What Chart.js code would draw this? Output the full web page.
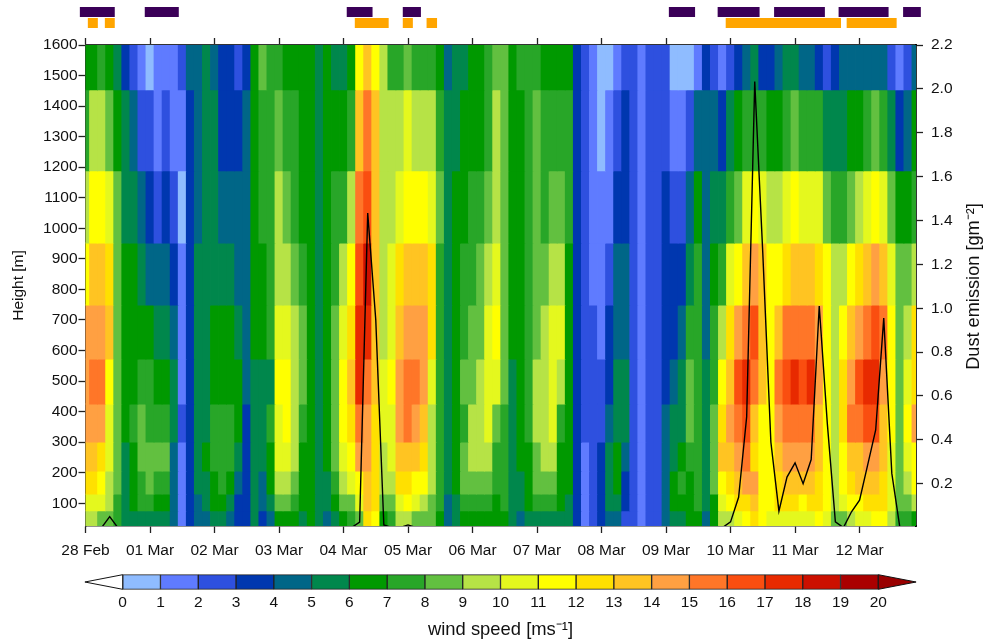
<!DOCTYPE html>
<html>
<head>
<meta charset="utf-8">
<script src="https://cdn.jsdelivr.net/npm/chart.js@4/dist/chart.umd.min.js"></script>
<style>
html,body{margin:0;padding:0;background:#fff;width:985px;height:641px;overflow:hidden}
canvas{position:absolute;left:0;display:block}
</style>
</head>
<body>
<canvas id="strips" width="985" height="30" style="top:0"></canvas>
<canvas id="main" width="985" height="545" style="top:20px"></canvas>
<canvas id="bar" width="985" height="76" style="top:565px"></canvas>
<script>
const dayLabels = ['28 Feb','01 Mar','02 Mar','03 Mar','04 Mar','05 Mar','06 Mar','07 Mar','08 Mar','09 Mar','10 Mar','11 Mar','12 Mar'];
const heightTicks = [100,200,300,400,500,600,700,800,900,1000,1100,1200,1300,1400,1500,1600];
const dustTicks = [0.2,0.4,0.6,0.8,1.0,1.2,1.4,1.6,1.8,2.0,2.2];
const levelEdges = [1600,1453,1188,952,749,572,425,300,205,130,75,25.7];
const speedTicks = [0,1,2,3,4,5,6,7,8,9,10,11,12,13,14,15,16,17,18,19,20];
const palette = ['#8FBCFF','#5F7BFF','#2E50DF','#0037AF','#006687','#00874C','#009900','#28A628','#62C040','#B6E346','#E4F81E','#FFFF00','#FFE000','#FFC422','#FFA042','#FF7628','#FA4E10','#E82A00','#CC1000','#AA0000'];
const overColor = '#990000';

// wind speed class (m/s, lower bound) per 3-hour step, top level first
const wind1 = [6,6,7,6,5,3,2,1,0,1,1,1,2,4,4,5,4,3,3,2,3,6,8,7,7,6,6, 6,6,5,6,5,5,6,11,13,11,9,7,7,8,7,7,7,6,4,5,5,6,6,7,8,8, 6,7,7,7,6,6,6,6,3,2,1,0,0,1,2,2,1,2,2,2,0,0,0,1,3, 2,1,2,3,4,5,3,3,4,5,5,4,4,3,2,3,4,4,4,4,4,4,2,1,2,4];
const wind2 = [7,9,9,8,6,5,4,2,2,1,2,1,1,3,4,5,5,3,3,3,4,6,7,7,8,7,7, 6,6,5,6,6,6,7,13,15,13,9,9,9,10,9,9,9,7,5,5,6,6,6,7,9,8, 6,6,7,8,7,7,7,7,3,2,1,0,1,2,3,2,1,2,2,2,1,1,2,4,4, 4,3,5,6,7,7,7,6,6,7,8,7,7,7,5,5,5,6,6,7,8,7,5,3,4,6];
const wind3 = [9,11,11,10,8,5,5,4,3,2,3,2,0,3,4,5,5,4,4,4,4,6,7,7,9,8,7, 6,6,5,6,7,7,9,15,16,13,9,9,10,11,11,11,10,8,5,6,6,7,7,8,9,8, 6,6,7,8,7,8,8,7,3,2,1,1,1,3,3,2,1,2,2,3,2,2,4,6,4, 5,5,7,8,10,11,10,9,9,10,11,10,10,10,8,7,7,8,9,10,11,10,8,6,6,7];
const wind4 = [11,13,13,12,8,6,6,5,4,4,4,3,1,3,5,5,5,5,5,4,4,6,6,7,9,9,8, 7,6,5,6,7,9,11,16,18,13,9,10,12,13,13,13,12,7,5,6,7,7,8,9,10,8, 6,6,7,8,8,9,9,6,3,2,1,1,2,4,4,2,1,2,2,3,3,3,5,7,4, 6,7,10,11,13,14,13,11,11,12,13,13,13,12,11,9,9,11,12,13,14,13,10,8,8,9];
const wind5 = [14,14,14,13,8,6,6,6,6,5,5,4,1,3,5,5,6,6,6,5,4,6,6,7,10,10,9, 8,6,5,6,8,10,12,17,17,13,9,10,13,14,14,14,12,7,5,6,7,8,8,10,11,8, 6,6,7,8,9,10,10,6,3,2,2,1,3,4,4,2,1,2,2,3,3,4,7,7,4, 7,9,12,14,15,16,13,11,13,15,15,15,15,14,11,9,11,13,14,15,16,15,11,8,9,12];
const wind6 = [14,15,15,11,8,6,6,7,7,6,6,5,1,3,5,5,6,6,6,6,4,5,5,5,11,11,9, 8,6,5,6,8,11,13,17,15,13,10,11,14,15,15,14,10,7,5,6,8,8,9,10,10,8, 5,6,7,9,9,10,9,6,3,2,2,2,3,5,5,2,1,2,2,3,4,5,8,7,5, 7,11,13,16,17,15,13,11,15,16,17,16,17,14,11,9,12,14,16,17,17,14,11,8,10,12];
const wind7 = [14,14,14,10,8,6,7,8,7,7,7,5,2,3,5,5,7,7,7,6,3,5,5,7,10,11,9, 7,6,5,6,8,11,12,15,14,12,10,10,14,15,14,13,9,7,5,6,7,9,9,10,8,7, 5,6,7,9,9,10,7,6,3,2,2,2,4,5,5,2,1,2,2,4,5,5,8,7,5, 8,12,14,15,16,13,11,11,14,15,15,15,15,13,11,9,12,15,15,16,16,13,11,8,11,14];
const wind8 = [13,13,12,10,8,5,6,8,8,8,8,4,1,3,5,6,7,7,7,5,3,5,5,6,10,10,9, 6,6,5,6,8,10,11,14,14,12,9,10,13,13,13,12,9,7,5,6,8,9,9,9,7,7, 5,6,6,8,9,9,6,6,3,1,2,3,5,6,4,2,1,2,2,4,5,6,7,7,5, 8,13,13,14,15,12,11,11,13,14,14,14,14,13,11,9,11,13,13,14,14,13,10,8,10,11];
const wind9 = [12,12,11,9,8,5,6,7,8,7,7,4,1,3,5,5,6,7,6,4,3,5,4,6,9,9,8, 6,6,5,5,7,9,10,11,13,12,9,9,12,12,11,11,9,7,5,6,8,8,8,8,7,7, 5,5,6,8,8,8,6,6,3,1,2,3,5,6,3,2,1,2,2,4,6,7,6,7,5, 8,11,12,13,14,14,11,11,12,13,13,13,13,12,11,9,11,12,13,13,13,12,10,8,9,11];
const wind10 = [10,10,10,9,7,5,6,7,7,6,6,4,1,3,4,5,6,6,5,3,3,5,4,5,8,8,7, 6,6,5,5,6,8,8,10,13,12,8,8,10,11,10,9,8,7,4,5,7,7,7,7,6,7, 5,5,6,7,7,7,6,5,3,1,2,3,5,5,3,2,1,2,2,4,6,6,6,7,5, 6,10,11,12,12,13,11,11,12,12,12,11,12,12,11,9,10,11,11,12,12,12,10,8,8,9];
const wind11 = [9,9,8,8,7,5,5,5,5,5,5,4,1,3,4,4,5,5,4,3,3,5,3,4,6,6,6, 5,6,5,4,5,6,7,8,12,11,6,7,9,9,8,8,8,6,4,5,6,6,6,6,6,6, 5,4,5,5,5,5,5,5,3,1,2,3,4,4,2,2,1,2,2,4,5,5,6,6,4, 6,9,9,10,11,12,11,10,10,10,10,10,10,11,10,8,8,9,10,10,11,11,9,7,7,6];
const windRows = [wind1,wind2,wind3,wind4,wind5,wind6,wind7,wind8,wind9,wind10,wind11];

// dust emission per 3-hour step
const dust = [0,0,0,0.05,0,0,0,0,0,0,0,0,0,0,0,0,0,0,0,0,0,0,0,0,0,0,0,0,0,0,0,0,0,0,0.025,1.434,0.946,0.012,0,0,0.012,0,0,0,0,0,0,0,0,0,0,0,0,0,0,0,0,0,0,0,0,0,0,0,0,0,0,0,0,0,0,0,0,0,0,0,0,0,0,0,0.026,0.138,0.505,2.033,1.25,0.39,0.075,0.23,0.295,0.2,0.31,1.01,0.475,0.026,0,0.072,0.125,0.285,0.445,0.955,0.247,0,0,0];

// event strips: start and end in 3-hour steps
const purpleSpans = [[-0.7,3.63],[7.35,11.57],[32.4,35.6],[39.35,41.6],[72.35,75.6],[78.4,83.6],[85.4,91.7],[93.4,99.6],[101.4,103.6]];
const orangeSpans = [[0.29,1.53],[2.4,3.63],[33.4,37.6],[39.35,40.6],[42.3,43.6],[79.4,93.7],[94.4,100.6]];

const FONT = 'Liberation Sans, Arial, Helvetica, sans-serif';
const TXT = '#111';
const CANVAS_H = 545;
const LEFT = 85.5, RIGHT = 916, TOP = 25, BOTTOM = 506; // main chart plot box within its canvas
const timeLabels = [];
for (let k = 0; k < 104; k++) timeLabels.push(k % 8 === 0 ? dayLabels[k / 8] : '');
const keepDays = s => { s.ticks = s.ticks.filter(t => t.value % 8 === 0); };

const rowDatasets = windRows.map((row, r) => ({
  type: 'bar', order: 2, xAxisID: 'x', yAxisID: 'y',
  data: row.map(() => [levelEdges[r + 1], levelEdges[r]]),
  backgroundColor: row.map(v => palette[Math.min(Math.floor(v), palette.length - 1)] || overColor),
  borderWidth: 0, inflateAmount: 0.4, grouped: false,
  barPercentage: 1, categoryPercentage: 1
}));
const dustDataset = {
  type: 'line', order: 1, xAxisID: 'x', yAxisID: 'yDust', data: dust,
  borderColor: '#000', borderWidth: 1.4, pointRadius: 0, tension: 0, fill: false
};

// right-hand axis title reads bottom to top, like the left one
const dustTitle = {
  id: 'dustTitle',
  afterDraw(chart) {
    const { ctx, chartArea: a } = chart;
    ctx.save();
    ctx.translate(974, (a.top + a.bottom) / 2 + 1);
    ctx.rotate(-Math.PI / 2);
    ctx.font = '18.2px ' + FONT;
    ctx.fillStyle = TXT;
    ctx.textAlign = 'center';
    ctx.textBaseline = 'middle';
    ctx.fillText('Dust emission [gm\u207B\u00B2]', 0, 0);
    ctx.restore();
  }
};

new Chart(document.getElementById('main'), {
  plugins: [dustTitle],
  data: { labels: timeLabels, datasets: [...rowDatasets, dustDataset] },
  options: {
    responsive: false, animation: false,
    layout: { padding: 0 },
    plugins: { legend: { display: false }, tooltip: { enabled: false } },
    scales: {
      x: {
        type: 'category', position: 'bottom', offset: false,
        afterBuildTicks: keepDays,
        afterFit: s => { s.height = CANVAS_H - BOTTOM; },
        grid: { offset: false, drawOnChartArea: false, tickLength: 7, tickColor: '#222', tickWidth: 1.3 },
        border: { color: '#222', width: 1.6 },
        ticks: { autoSkip: false, maxRotation: 0, minRotation: 0, padding: 8, color: TXT, font: { family: FONT, size: 15.5 } }
      },
      xTop: {
        type: 'category', position: 'top', offset: false,
        afterBuildTicks: keepDays,
        afterFit: s => { s.height = TOP; },
        grid: { offset: false, drawOnChartArea: false, tickLength: 7, tickColor: '#222', tickWidth: 1.3 },
        border: { color: '#333', width: 1.4 },
        ticks: { display: false, autoSkip: false }
      },
      y: {
        type: 'linear', position: 'left', min: 25.7, max: 1600,
        afterBuildTicks: s => { s.ticks = heightTicks.map(v => ({ value: v })); },
        afterFit: s => { s.width = LEFT; },
        grid: { drawOnChartArea: false, tickLength: 7, tickColor: '#222', tickWidth: 1.3 },
        border: { color: '#333', width: 1.4 },
        title: { display: true, text: 'Height [m]', color: TXT, font: { family: FONT, size: 15.5 }, padding: { top: 9, bottom: 0 } },
        ticks: { padding: 1, color: TXT, font: { family: FONT, size: 15.5 }, callback: v => String(v) }
      },
      yDust: {
        type: 'linear', position: 'right', min: 0.0072, max: 2.2,
        afterBuildTicks: s => { s.ticks = dustTicks.map(v => ({ value: v })); },
        afterFit: s => { s.width = 985 - RIGHT; },
        grid: { drawOnChartArea: false, tickLength: 7, tickColor: '#222', tickWidth: 1.3 },
        border: { color: '#000', width: 1.8 },
        ticks: { padding: 8, color: TXT, font: { family: FONT, size: 15.5 }, callback: v => v.toFixed(1) }
      }
    }
  }
});

// event strips, on a step scale aligned with the main chart
const stepPx = (RIGHT - LEFT) / 103;
const stripDatasets = [];
purpleSpans.forEach(s => stripDatasets.push({ data: [s, null], backgroundColor: '#3B0058' }));
orangeSpans.forEach(s => stripDatasets.push({ data: [null, s], backgroundColor: '#FFA500' }));
new Chart(document.getElementById('strips'), {
  type: 'bar',
  data: {
    labels: ['purple', 'orange'],
    datasets: stripDatasets.map(d => Object.assign(d, { grouped: false, barThickness: 10, borderWidth: 0, inflateAmount: 0 }))
  },
  options: {
    indexAxis: 'y', responsive: false, animation: false,
    layout: { padding: { left: LEFT - stepPx, right: 985 - (RIGHT + stepPx), top: 6.5, bottom: 1.5 } },
    plugins: { legend: { display: false }, tooltip: { enabled: false } },
    scales: {
      x: { type: 'linear', min: -1, max: 104, display: false },
      y: { type: 'category', display: false }
    }
  }
});

// colour bar
const endArrows = {
  id: 'endArrows',
  afterDatasetsDraw(chart) {
    const { ctx, scales: { x }, chartArea: a } = chart;
    const tri = (base, tip, fill) => {
      const bx = x.getPixelForValue(base), tx = x.getPixelForValue(tip), my = (a.top + a.bottom) / 2;
      ctx.save();
      ctx.beginPath(); ctx.moveTo(bx, a.top); ctx.lineTo(tx, my); ctx.lineTo(bx, a.bottom); ctx.closePath();
      ctx.fillStyle = fill; ctx.fill();
      ctx.strokeStyle = '#111'; ctx.lineWidth = 1; ctx.stroke();
      ctx.restore();
    };
    tri(0, -1, '#fff');
    tri(20, 21, overColor);
  }
};
new Chart(document.getElementById('bar'), {
  type: 'bar',
  plugins: [endArrows],
  data: {
    labels: ['wind speed'],
    datasets: palette.map((c, i) => ({
      data: [[speedTicks[i], speedTicks[i + 1]]], backgroundColor: c,
      borderColor: '#222', borderWidth: 1, grouped: false,
      barPercentage: 1, categoryPercentage: 1, borderSkipped: false, clip: false
    }))
  },
  options: {
    indexAxis: 'y', responsive: false, animation: false,
    layout: { padding: { left: 84.9, right: 985 - 916.1, top: 9.7, bottom: 0 } },
    plugins: { legend: { display: false }, tooltip: { enabled: false } },
    scales: {
      x: {
        type: 'linear', position: 'bottom', min: -1, max: 21,
        afterBuildTicks: s => { s.ticks = speedTicks.map(v => ({ value: v })); },
        afterFit: s => { s.height = 76 - 24.3; },
        grid: { display: false, drawTicks: false },
        border: { display: false },
        ticks: { padding: 4, autoSkip: false, maxRotation: 0, color: TXT, font: { family: FONT, size: 15.5 } },
        title: { display: true, text: 'wind speed [ms\u207B\u00B9]', color: TXT, font: { family: FONT, size: 18.4 }, padding: { top: 3, bottom: 0 } }
      },
      y: { type: 'category', display: false }
    }
  }
});
</script>
</body>
</html>
